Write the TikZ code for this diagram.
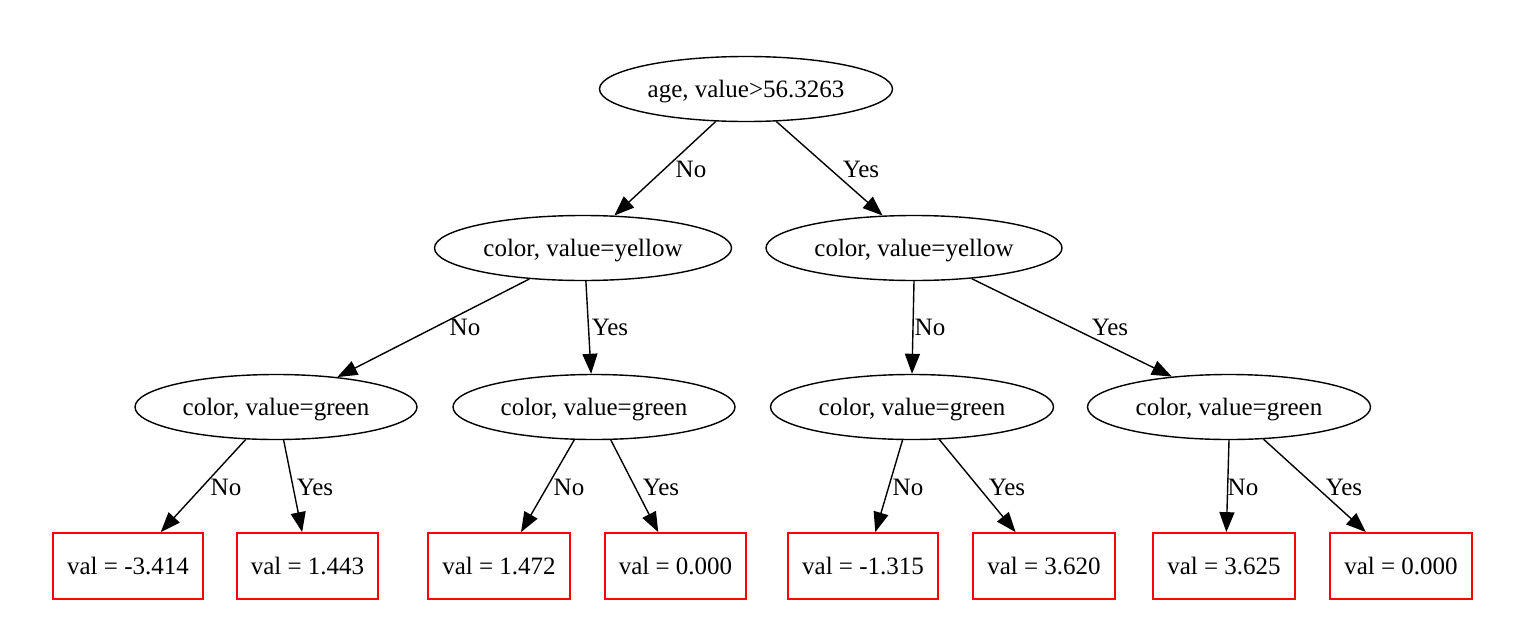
\documentclass[tikz,border=0pt]{standalone}
\usepackage{fontspec}
\setmainfont{Liberation Serif}
\usetikzlibrary{arrows.meta,positioning,shapes.geometric}

\begin{document}
\begin{tikzpicture}[x=1pt, y=-1pt,
	every node/.style={font=\fontsize{25}{30}\selectfont},
	split/.style={draw, ellipse, line width=1.4pt, inner sep=0pt, text depth=0pt, minimum height=65pt},
	leaf/.style={draw=red, rectangle, line width=1.7pt, inner xsep=14pt, minimum height=66pt},
	edge/.style={line width=1.4pt, -{Triangle[length=20pt, width=15pt]}},
	lbl/.style={inner sep=0pt}]
	\useasboundingbox (0,0) rectangle (1514,643);

	% split nodes
	\node (age) at (746,89) [split, minimum width=293pt] {age, value>56.3263};
	\node (colL) at (583,248) [split, minimum width=297pt] {color, value=yellow};
	\node (colR) at (914,248) [split, minimum width=296pt] {color, value=yellow};
	\node (grLL) at (276,407) [split, minimum width=282pt] {color, value=green};
	\node (grLR) at (594,407) [split, minimum width=282pt] {color, value=green};
	\node (grRL) at (912,407) [split, minimum width=283pt] {color, value=green};
	\node (grRR) at (1229,407) [split, minimum width=283pt] {color, value=green};

	% leaves
	\node (v1) at (128,566) [leaf] {val = -3.414};
	\node (v2) at (307.5,566) [leaf] {val = 1.443};
	\node (v3) at (499,566) [leaf] {val = 1.472};
	\node (v4) at (675.5,566) [leaf] {val = 0.000};
	\node (v5) at (863,566) [leaf] {val = -1.315};
	\node (v6) at (1044,566) [leaf] {val = 3.620};
	\node (v7) at (1224,566) [leaf] {val = 3.625};
	\node (v8) at (1401,566) [leaf] {val = 0.000};

	\draw [edge] (age.227.6) -- (colL.46.8) node[lbl] at (691,169) {No};
	\draw [edge] (age.313.3) -- (colR.134.1) node[lbl] at (861,169) {Yes};

	\draw [edge] (colL.210.1) -- (grLL.26.6) node[lbl] at (465,327) {No};
	\draw [edge] (colL.275) -- (grLR.95.4) node[lbl] at (610,327) {Yes};
	\draw [edge] (colR.270) -- (grRL.90) node[lbl] at (930,327) {No};
	\draw [edge] (colR.332) -- (grRR.152.2) node[lbl] at (1110,327) {Yes};

	\draw [edge] (grLL.227.7) -- (v1.46.8) node[lbl] at (226,487) {No};
	\draw [edge] (grLL.283.6) -- (v2.99.5) node[lbl] at (315,487) {Yes};
	\draw [edge] (grLR.239.3) -- (v3.57.5) node[lbl] at (569,487) {No};
	\draw [edge] (grLR.297.3) -- (v4.117.9) node[lbl] at (661,487) {Yes};
	\draw [edge] (grRL.254.7) -- (v5.70) node[lbl] at (908,487) {No};
	\draw [edge] (grRL.310.2) -- (v6.130.3) node[lbl] at (1007,487) {Yes};
	\draw [edge] (grRR.270) -- (v7.86.5) node[lbl] at (1243,487) {No};
	\draw [edge] (grRR.317.6) -- (v8.136.7) node[lbl] at (1344,487) {Yes};
\end{tikzpicture}
\end{document}
